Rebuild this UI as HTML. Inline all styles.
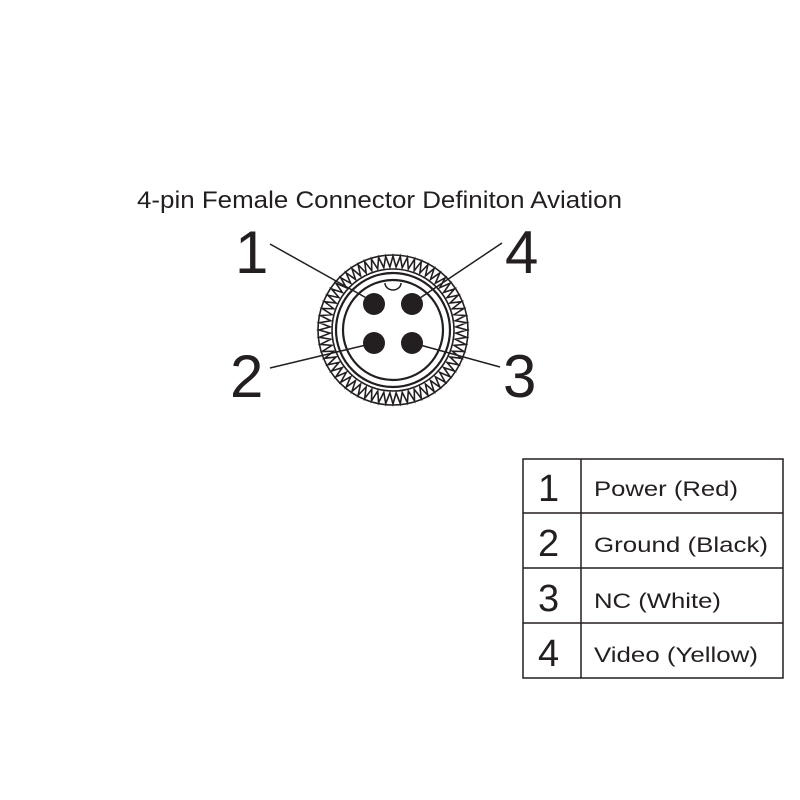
<!DOCTYPE html>
<html><head><meta charset="utf-8"><style>
html,body{margin:0;padding:0;background:#fff;width:800px;height:800px;overflow:hidden}
svg{display:block}
text{font-family:"Liberation Sans",sans-serif;fill:#231f20}
</style></head><body>
<svg width="800" height="800" viewBox="0 0 800 800" xmlns="http://www.w3.org/2000/svg">
<text x="137" y="208" font-size="24" textLength="485" lengthAdjust="spacingAndGlyphs">4-pin Female Connector Definiton Aviation</text>
<g stroke="#231f20" fill="none">
<polygon id="teeth" stroke-width="1.6" points=""/>
<circle cx="393" cy="330" r="75" stroke-width="1.6"/>
<circle cx="393" cy="330" r="61" stroke-width="1.6"/>
<circle cx="393" cy="330" r="57" stroke-width="2.2"/>
<circle cx="393" cy="330" r="50" stroke-width="2.2"/>
<path d="M385 283 A8 7 0 0 0 401 283" stroke-width="1.5"/>
<line x1="270" y1="244" x2="370" y2="300" stroke-width="1.5"/>
<line x1="502" y1="243" x2="417" y2="300" stroke-width="1.5"/>
<line x1="270" y1="368" x2="366" y2="345" stroke-width="1.5"/>
<line x1="500" y1="367" x2="420" y2="345" stroke-width="1.5"/>
</g>
<g fill="#231f20">
<circle cx="374" cy="304" r="11"/><circle cx="412" cy="304" r="11"/>
<circle cx="374" cy="343" r="11"/><circle cx="412" cy="343" r="11"/>
</g>
<g font-size="60" font-weight="normal">
<text x="235" y="273">1</text>
<text x="505" y="273">4</text>
<text x="230" y="397">2</text>
<text x="503" y="397">3</text>
</g>
<g stroke="#231f20" stroke-width="1.5" fill="none">
<rect x="523" y="459" width="260" height="219"/>
<line x1="581" y1="459" x2="581" y2="678"/>
<line x1="523" y1="513" x2="783" y2="513"/>
<line x1="523" y1="568" x2="783" y2="568"/>
<line x1="523" y1="623" x2="783" y2="623"/>
</g>
<g font-size="38">
<text x="538" y="501">1</text>
<text x="538" y="556">2</text>
<text x="538" y="611">3</text>
<text x="538" y="666">4</text>
</g>
<g font-size="21">
<text x="594" y="496" textLength="144" lengthAdjust="spacingAndGlyphs">Power (Red)</text>
<text x="594" y="552" textLength="174" lengthAdjust="spacingAndGlyphs">Ground (Black)</text>
<text x="594" y="608" textLength="127" lengthAdjust="spacingAndGlyphs">NC (White)</text>
<text x="594" y="662" textLength="164" lengthAdjust="spacingAndGlyphs">Video (Yellow)</text>
</g>
</svg>
<script>
(function(){var n=64,cx=393,cy=330,ro=74,ri=63,p=[];
for(var i=0;i<n*2;i++){var a=i*Math.PI/n,r=i%2?ri:ro;p.push((cx+r*Math.cos(a)).toFixed(1)+","+(cy+r*Math.sin(a)).toFixed(1));}
document.getElementById("teeth").setAttribute("points",p.join(" "));})();
</script>
</body></html>
